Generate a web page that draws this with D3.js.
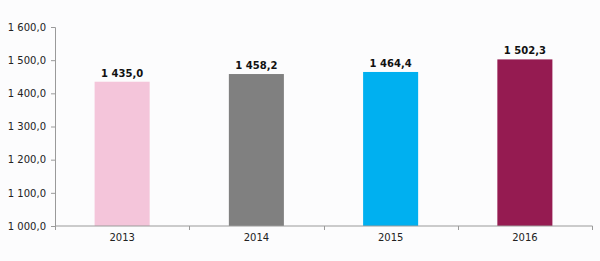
<!DOCTYPE html>
<html>
<head>
<meta charset="utf-8">
<script src="https://cdn.jsdelivr.net/npm/d3@7"></script>
<style>
  body { margin: 0; background: #fcfcfd; }
  .axis text { font-family: "DejaVu Sans", Verdana, sans-serif; font-size: 10px; fill: #222; }
  .axis path, .axis line { stroke: #9a9a9a; }
  .value { font-family: "DejaVu Sans", Verdana, sans-serif; font-size: 10px; font-weight: bold; fill: #111; }
</style>
</head>
<body>
<script>
// data
var years = ["2013", "2014", "2015", "2016"];
var values = [1435.0, 1458.2, 1464.4, 1502.3];
var colors = ["#f4c5da", "#808080", "#00b0f0", "#951b51"];
var yTicks = [1000, 1100, 1200, 1300, 1400, 1500, 1600];

// dimensions
var margin = { top: 27, right: 8, bottom: 35, left: 55 },
    width = 600 - margin.left - margin.right,
    height = 261 - margin.top - margin.bottom;

var loc = d3.formatLocale({ decimal: ",", thousands: " ", grouping: [3], currency: ["", ""] });
var fmt = loc.format(",.1f");

var x = d3.scaleBand().domain(years).range([0, width]).paddingInner(0.59).paddingOuter(0.295);
var y = d3.scaleLinear().domain([1000, 1600]).range([height, 0]);

var svg = d3.select("body").append("svg")
    .attr("width", 600)
    .attr("height", 261)
    .append("g")
    .attr("transform", "translate(" + margin.left + "," + margin.top + ")");

// bars
svg.selectAll(".bar")
    .data(values)
    .enter().append("rect")
    .attr("class", "bar")
    .attr("x", function (d, i) { return x(years[i]); })
    .attr("width", x.bandwidth())
    .attr("y", function (d) { return y(d); })
    .attr("height", function (d) { return height - y(d); })
    .attr("fill", function (d, i) { return colors[i]; });

// value labels
svg.selectAll(".value")
    .data(values)
    .enter().append("text")
    .attr("class", "value")
    .attr("x", function (d, i) { return x(years[i]) + x.bandwidth() / 2; })
    .attr("y", function (d) { return y(d) - 5; })
    .attr("text-anchor", "middle")
    .text(function (d) { return fmt(d); });

// y axis
var yAxis = svg.append("g")
    .attr("class", "axis")
    .call(d3.axisLeft(y).tickValues(yTicks).tickFormat(fmt).tickSizeOuter(0).tickSize(4).tickPadding(5));

// x axis with ticks at band boundaries
var xAxis = svg.append("g")
    .attr("class", "axis")
    .attr("transform", "translate(0," + height + ")")
    .call(d3.axisBottom(x).tickSize(0).tickSizeOuter(0).tickPadding(8));
xAxis.select(".domain").attr("d", "M0.5,0H" + (width + 0.5));
var step = x.step();
xAxis.selectAll(".sep")
    .data(d3.range(years.length + 1))
    .enter().append("line")
    .attr("class", "sep")
    .attr("x1", function (i) { return Math.round(i * step) + 0.5; })
    .attr("x2", function (i) { return Math.round(i * step) + 0.5; })
    .attr("y1", 0)
    .attr("y2", 4);
</script>
</body>
</html>
